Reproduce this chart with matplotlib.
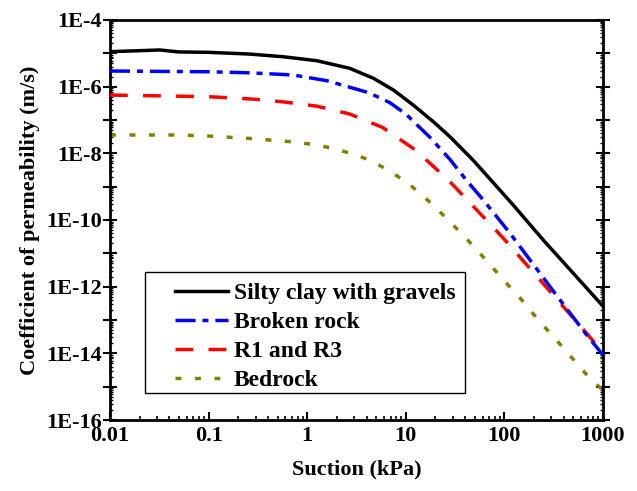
import math
import matplotlib
matplotlib.use("Agg")
import matplotlib.pyplot as plt
from matplotlib.patches import Rectangle
from matplotlib.ticker import LogLocator, FixedLocator, FuncFormatter, NullFormatter

# values (suction in kPa, permeability in m/s)
suction_clay = [0.01, 0.02, 0.032, 0.05, 0.1, 0.26, 0.57, 1.25, 2.7, 4.7, 7.5, 11.9,
                19, 28, 48, 90, 123, 248, 1000]
k_clay = [1.12e-5, 1.2e-5, 1.26e-5, 1.1e-5, 1.07e-5, 9.5e-6, 7.9e-6, 6.0e-6, 3.55e-6,
          1.78e-6, 7.9e-7, 2.8e-7, 8.9e-8, 3.16e-8, 6.3e-9, 7.9e-10, 2.8e-10, 2.5e-11,
          2.6e-13]

suction_rock = [0.01, 0.1, 0.26, 0.72, 1.58, 4.2, 6.9, 10, 17.6, 28, 41, 61, 114, 326,
                683, 1000]
k_rock = [2.95e-6, 2.8e-6, 2.6e-6, 2.24e-6, 1.51e-6, 6.6e-7, 3.3e-7, 1.51e-7, 3.0e-8,
          6.6e-9, 1.58e-9, 4.0e-10, 4.0e-11, 6.3e-13, 3.55e-14, 8.9e-15]

suction_r13 = [0.01, 0.1, 0.29, 0.57, 1.25, 2.7, 5.8, 12.5, 27, 56.5, 98, 230, 520, 1000]
k_r13 = [5.6e-7, 5.0e-7, 4.2e-7, 3.5e-7, 2.6e-7, 1.51e-7, 6.0e-8, 1.26e-8, 1.58e-9,
         1.58e-10, 2.8e-11, 1.58e-12, 1.0e-13, 1.07e-14]

suction_bed = [0.01, 0.05, 0.1, 0.26, 0.67, 1.07, 1.7, 2.7, 4.3, 6.8, 10.8, 17.3, 27.5,
               43, 66, 98, 150, 221, 333, 500, 750, 1000]
k_bed = [3.55e-8, 3.55e-8, 3.3e-8, 2.8e-8, 2.24e-8, 1.9e-8, 1.48e-8, 1.02e-8, 6.3e-9,
         3.0e-9, 1.2e-9, 3.55e-10, 9.5e-11, 2.4e-11, 6.0e-12, 1.58e-12, 4.0e-13, 1.0e-13,
         2.6e-14, 6.6e-15, 1.66e-15, 7.9e-16]

labels = ["Silty clay with gravels", "Broken rock", "R1 and R3", "Bedrock"]

plt.rcParams["font.family"] = ["Liberation Serif", "DejaVu Serif"]
plt.rcParams["font.weight"] = "bold"
plt.rcParams["font.size"] = 16
plt.rcParams["lines.scale_dashes"] = False

fig = plt.figure(figsize=(6.37, 4.91), dpi=100)
ax = fig.add_axes([0.1727, 0.1446, 0.7739, 0.8147])

lw = 2.5
ax.plot(suction_clay, k_clay, color="black", lw=lw, label=labels[0], zorder=5)
ax.plot(suction_rock, k_rock, color="#0000ff", lw=lw, dashes=(14.4, 5, 4.3, 5),
        label=labels[1], zorder=4)
ax.plot(suction_r13, k_r13, color="#ff0000", lw=lw, dashes=(12.8, 11),
        label=labels[2], zorder=3)
ax.plot(suction_bed, k_bed, color="#808000", lw=lw, dashes=(4.3, 9.7),
        label=labels[3], zorder=2)

ax.set_xscale("log")
ax.set_yscale("log")
ax.set_xlim(0.01, 1000)
ax.set_ylim(1e-16, 1e-4)

ax.xaxis.set_major_locator(FixedLocator([0.01, 0.1, 1, 10, 100, 1000]))
ax.xaxis.set_minor_locator(LogLocator(base=10, subs=range(2, 10)))
ax.xaxis.set_major_formatter(FuncFormatter(lambda v, p: "%g" % v))
ax.xaxis.set_minor_formatter(NullFormatter())

ax.yaxis.set_major_locator(FixedLocator([10.0 ** e for e in range(-16, -3)]))
ax.yaxis.set_minor_locator(LogLocator(base=10, subs=range(2, 10), numticks=20))


def ylab(v, p):
    e = int(round(math.log10(v)))
    return "1E%d" % e if e % 2 == 0 else ""


ax.yaxis.set_major_formatter(FuncFormatter(ylab))
ax.yaxis.set_minor_formatter(NullFormatter())

ax.tick_params(axis="x", which="major", direction="in", length=6, width=1.5, pad=4,
               labelsize=16)
ax.tick_params(axis="x", which="minor", direction="in", length=3, width=1.2)
ax.tick_params(axis="y", which="major", direction="inout", length=10, width=1.5, pad=1,
               labelsize=16, right=True)
ax.tick_params(axis="y", which="minor", direction="in", length=2, width=1, right=True)

for s in ax.spines.values():
    s.set_linewidth(2)

ax.set_xlabel("Suction (kPa)", fontsize=16, fontweight="bold", labelpad=10)
ax.set_ylabel("Coefficient of permeability (m/s)", fontsize=16, fontweight="bold",
              labelpad=4)

# legend frame drawn separately so the inner padding matches the original
ax.add_patch(Rectangle((0.071, 0.0675), 0.649, 0.3025, transform=ax.transAxes,
                       facecolor="white", edgecolor="black", lw=1, zorder=6))
leg = ax.legend(loc="lower left", bbox_to_anchor=(0.1318, 0.072), borderaxespad=0,
                frameon=False, fontsize=17, handlelength=2.25, handletextpad=0.25,
                labelspacing=0.32, borderpad=0)
leg.set_zorder(7)

plt.savefig("out.png", dpi=100)
plt.close()
